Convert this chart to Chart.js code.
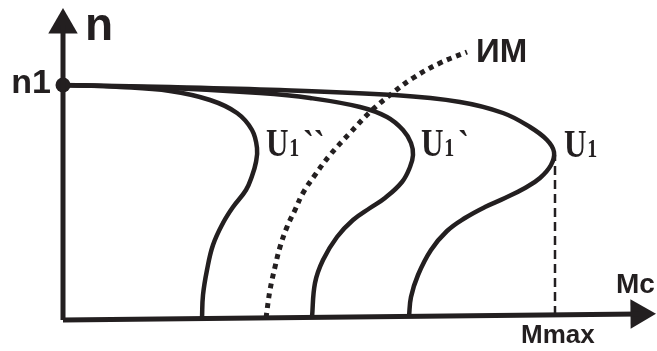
<!DOCTYPE html>
<html>
<head>
<meta charset="utf-8">
<script src="https://cdn.jsdelivr.net/npm/chart.js@4"></script>
<style>
  html, body { margin: 0; padding: 0; background: #fff; }
  #chart { display: block; }
</style>
</head>
<body>
<canvas id="chart" width="657" height="351"></canvas>
<script>
// mechanical characteristics n(M) of the drive at supply voltage U1, U1`, U1``
// torque M along x, speed n along y (arbitrary units, origin at the axes corner)
const curveU1 = [
  [0, 235], [107, 233], [217, 230], [330, 225], [397, 218], [440, 207],
  [467, 193], [484, 180], [491, 168], [488, 155], [477, 142], [462, 132],
  [442, 122], [422, 113], [402, 102], [384, 89], [368, 70], [355, 45],
  [348, 23], [346, 3.5]
];
const curveU1a = [
  [0, 235], [107, 232], [197, 227], [247, 222], [297, 213], [324, 203],
  [340, 190], [348, 177], [350, 165], [347, 153], [339, 138], [322, 122],
  [307, 112], [290, 100], [274, 83], [260, 60], [252, 37], [249, 2.5]
];
const curveU1b = [
  [0, 235], [57, 233], [107, 229], [147, 220], [174, 207], [189, 190],
  [194, 172], [193, 158], [189, 144], [183, 130], [170, 113], [160, 97],
  [150, 75], [144, 50], [140, 25], [139, 1.4]
];
// load characteristic of the working machine (ИМ)
const loadCurve = [
  [203, 2], [207, 30], [212, 53], [217, 73], [224, 93], [232, 110],
  [240, 127], [252, 145], [267, 165], [287, 187], [307, 208], [327, 225],
  [350, 242], [377, 257], [404, 268]
];
const n1 = 235;
const mMax = 492;
const nAxisTop = 295;
const mAxisEnd = [576, 6];

const ink = '#231f20';
const pts = (arr) => arr.map(([x, y]) => ({ x, y }));

const line = (data, extra) => Object.assign({
  data: pts(data),
  showLine: true,
  borderColor: ink,
  borderWidth: 4.5,
  pointRadius: 0,
  tension: 0.4,
  fill: false
}, extra);

// text drawn on top of the marks, anchored in data units
const labelsPlugin = {
  id: 'labels',
  afterDatasetsDraw(chart) {
    const { ctx, scales: { x, y } } = chart;
    const px = (v) => x.getPixelForValue(v);
    const py = (v) => y.getPixelForValue(v);
    ctx.save();
    ctx.fillStyle = ink;
    ctx.textBaseline = 'alphabetic';

    const sans = (size) => 'bold ' + size + 'px "Liberation Sans", Arial, sans-serif';
    ctx.textAlign = 'left';
    ctx.font = sans(46);
    ctx.fillText('n', px(22), py(280));
    ctx.font = sans(33);
    ctx.fillText('ИМ', px(413), py(258));
    ctx.font = sans(28);
    ctx.fillText('Mc', px(553), py(27));
    ctx.font = sans(26);
    ctx.fillText('Mmax', px(458), py(-23));
    ctx.textAlign = 'right';
    ctx.font = sans(34);
    ctx.fillText('n1', px(-12), py(227));

    // U1 labels: tall serif U with a small index
    const serif = (size) => 'bold ' + size + 'px "Liberation Serif", "Times New Roman", serif';
    const uLabel = (mx, ny, suffix) => {
      ctx.save();
      ctx.translate(px(mx), py(ny));
      ctx.scale(0.8, 1);
      ctx.textAlign = 'left';
      ctx.font = serif(39);
      ctx.fillText('U', 0, 0);
      const w = ctx.measureText('U').width;
      ctx.font = serif(25);
      ctx.fillText('1', w + 1, 0);
      const w1 = ctx.measureText('1').width;
      ctx.font = serif(40);
      ctx.fillText(suffix, w + w1 + 6, 2);
      ctx.restore();
    };
    uLabel(203, 164, '``');
    uLabel(358, 164, '`');
    uLabel(501, 163, '');
    ctx.restore();
  }
};

new Chart(document.getElementById('chart'), {
  type: 'scatter',
  data: {
    datasets: [
      // axes
      line([[0, 0], [0, nAxisTop]], { borderWidth: 5, tension: 0 }),
      line([[0, 0], mAxisEnd], { borderWidth: 5, tension: 0 }),
      {
        data: pts([[0, nAxisTop], mAxisEnd]),
        pointStyle: 'triangle',
        pointRadius: 17,
        rotation: [0, 89.4],
        backgroundColor: ink,
        borderWidth: 0
      },
      { data: pts([[0, n1]]), pointRadius: 7.5, backgroundColor: ink, borderWidth: 0 },
      // characteristics
      line(curveU1),
      line(curveU1a),
      line(curveU1b),
      line(loadCurve, { borderWidth: 5, borderDash: [5, 5], borderCapStyle: 'butt' }),
      line([[mMax, 5], [mMax, 165]], { borderWidth: 2.5, borderDash: [9, 5], tension: 0 })
    ]
  },
  options: {
    responsive: false,
    animation: false,
    devicePixelRatio: 1,
    events: [],
    layout: { padding: 0, autoPadding: false },
    plugins: { legend: { display: false }, tooltip: { enabled: false } },
    scales: {
      x: { type: 'linear', display: false, min: -63, max: 594 },
      y: { type: 'linear', display: false, min: -31, max: 320 }
    }
  },
  plugins: [labelsPlugin]
});
</script>
</body>
</html>
